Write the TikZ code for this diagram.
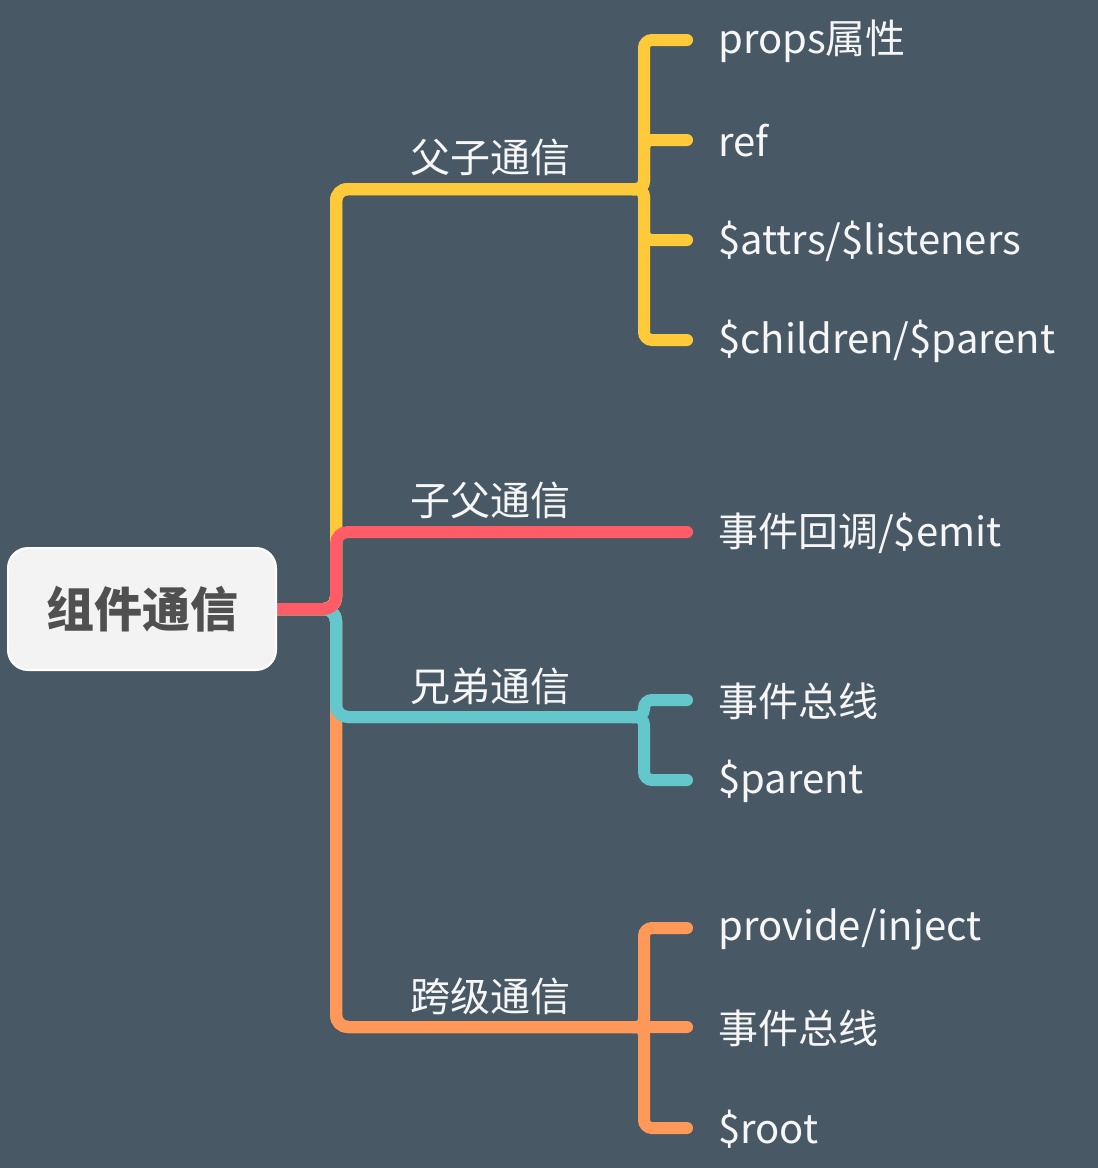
\documentclass[tikz,border=0pt]{standalone}
\usepackage{fontspec}
\setmainfont{Noto Sans CJK SC}
\usetikzlibrary{calc}
\definecolor{bg}{RGB}{72,89,101}
\definecolor{cyel}{RGB}{255,202,58}
\definecolor{cred}{RGB}{255,92,104}
\definecolor{cteal}{RGB}{99,199,204}
\definecolor{corg}{RGB}{255,152,88}
\definecolor{txt}{RGB}{246,246,246}
\definecolor{roottxt}{RGB}{80,80,80}
\definecolor{rootfill}{RGB}{243,243,243}
\begin{document}
\begin{tikzpicture}[x=0.75pt,y=-0.75pt,
  branch/.style={line width=9pt,line cap=round,rounded corners=9pt},
  bracepath/.style={line width=9pt,line cap=round,rounded corners=6pt},
  lbl/.style={text=txt,font=\fontsize{30pt}{32pt}\selectfont,inner sep=0pt},
  leaf/.style={lbl,anchor=west},
  rootbox/.style={draw=white,line width=1.5pt,fill=rootfill,rounded corners=15pt,
    minimum width=201pt,minimum height=91.5pt,text=roottxt,
    font=\fontsize{36pt}{38pt}\selectfont\bfseries}]
\useasboundingbox[fill=bg] (0,0) rectangle (1098,1168);

% leaves
\node[leaf] (y1) at (718,41) {props属性};
\node[leaf] (y2) at (718,141) {ref};
\node[leaf] (y3) at (718,241) {\$attrs/\$listeners};
\node[leaf] (y4) at (718,341) {\$children/\$parent};
\node[leaf] (r1) at (718,533) {事件回调/\$emit};
\node[leaf] (t1) at (718,701) {事件总线};
\node[leaf] (t2) at (718,781) {\$parent};
\node[leaf] (o1) at (718,929) {provide/inject};
\node[leaf] (o2) at (718,1028) {事件总线};
\node[leaf] (o3) at (718,1129) {\$root};

% branch labels
\node[lbl] (ly) at (490,157) {父子通信};
\node[lbl] (lr) at (490,500) {子父通信};
\node[lbl] (lt) at (490,686) {兄弟通信};
\node[lbl] (lo) at (490,996) {跨级通信};

% coordinates
\coordinate (T) at (336,609);
\coordinate (jY) at (644,189);
\coordinate (jT) at (644,717);
\coordinate (jO) at (644,1027);

% yellow
\foreach \c in {y1,y2,y3,y4}{
  \draw[cyel,branch] (276,609) -- (T) |- ($(jY)+(-8,0)$);
  \draw[cyel,bracepath] ($(jY)+(-12,0)$) -- (jY) |- ($(\c.west)+(-31,-1)$);
}
% orange
\foreach \c in {o1,o3}{
  \draw[corg,branch] (276,609) -- (T) |- ($(jO)+(-8,0)$);
  \draw[corg,bracepath] ($(jO)+(-12,0)$) -- (jO) |- ($(\c.west)+(-31,-1)$);
}
\draw[corg,branch] (276,609) -- (T) |- ($(o2.west)+(-31,-1)$);
% teal
\foreach \c in {t1,t2}{
  \draw[cteal,branch] (276,609) -- (T) |- ($(jT)+(-8,0)$);
  \draw[cteal,bracepath] ($(jT)+(-12,0)$) -- (jT) |- ($(\c.west)+(-31,-1)$);
}
% red
\draw[cred,branch] (276,609) -- (T) |- ($(r1.west)+(-31,-1)$);

% root
\node[rootbox] (root) at (142,609) {组件通信};
\end{tikzpicture}
\end{document}
